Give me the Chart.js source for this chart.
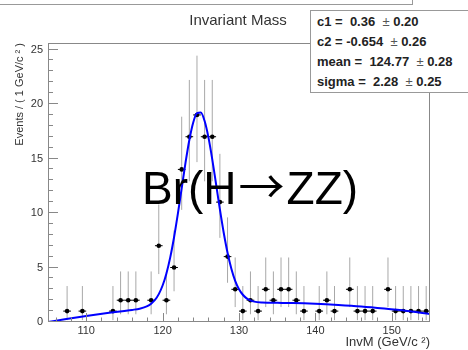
<!DOCTYPE html>
<html>
<head>
<meta charset="utf-8">
<script src="https://cdn.jsdelivr.net/npm/chart.js@4"></script>
<style>
  body { margin: 0; background: #fff; overflow: hidden; }
  #wrap { position: relative; width: 468px; height: 350px; overflow: hidden; font-family: "Liberation Sans", Arial, sans-serif; }
  #chart { position: absolute; left: 0; top: 0; }
  #topBox { position: absolute; left: -1px; top: -20px; width: 414px; height: 25px; box-sizing: border-box; border: 1px solid #999; }
  #title { position: absolute; left: 138px; top: 11px; width: 200px; text-align: center; font-size: 15px; line-height: 18px; color: #333; }
  #stats { position: absolute; left: 310px; top: 10px; width: 170px; height: 83px; box-sizing: border-box; border: 1px solid #999; background: #fff;
           padding: 1px 0 0 6px; font-size: 13px; font-weight: bold; line-height: 20px; color: #222; white-space: pre; }
  #stats span { font-weight: normal; color: #555; }
  #overlay { position: absolute; left: 142px; top: 161px; font-size: 46px; line-height: 46px; color: #000; white-space: nowrap; }
  #overlay .arrow { font-family: "Noto Sans CJK SC", sans-serif; margin: 0 2px 0 2px; position: relative; top: -1px; }
</style>
</head>
<body>
<div id="wrap">
  <canvas id="chart" width="468" height="350"></canvas>
  <div id="topBox"></div>
  <div id="title">Invariant Mass</div>
  <div id="stats">c1 =  0.36  <span>±</span> 0.20
c2 = -0.654  <span>±</span> 0.26
mean =  124.77  <span>±</span> 0.28
sigma =  2.28  <span>±</span> 0.25</div>
  <div id="overlay">Br(H<span class="arrow">→</span>ZZ)</div>
</div>
<script>
// binned data (only non-empty bins are drawn)
const binCenters = [107.5, 109.5, 113.5, 114.5, 115.5, 116.5, 118.5, 119.5, 120.5, 121.5,
                    122.5, 123.5, 124.5, 125.5, 126.5, 127.5, 128.5, 129.5, 130.5, 131.5,
                    132.5, 133.5, 134.5, 135.5, 136.5, 137.5, 138.5, 140.5, 141.5, 142.5,
                    144.5, 145.5, 146.5, 147.5, 149.5, 150.5, 151.5, 152.5, 153.5, 154.5];
const counts = [1, 1, 1, 2, 2, 2, 2, 7, 2, 5,
                14, 17, 19, 17, 17, 11, 6, 3, 1, 2,
                1, 3, 2, 3, 3, 2, 1, 1, 2, 1,
                3, 1, 1, 1, 3, 1, 1, 1, 1, 1];
const errLow = [0.17, 0.17, 0.17, 0.71, 0.71, 0.71, 0.71, 4.40, 0.71, 2.82,
                10.29, 12.91, 14.67, 12.91, 12.91, 7.72, 3.60, 1.37, 0.17, 0.71,
                0.17, 1.37, 0.71, 1.37, 1.37, 0.71, 0.17, 0.17, 0.71, 0.17,
                1.37, 0.17, 0.17, 0.17, 1.37, 0.17, 0.17, 0.17, 0.17, 0.17];
const errHigh = [3.30, 3.30, 3.30, 4.64, 4.64, 4.64, 4.64, 10.78, 4.64, 8.40,
                 18.84, 22.21, 24.44, 22.21, 22.21, 15.43, 9.60, 5.92, 3.30, 4.64,
                 3.30, 5.92, 4.64, 5.92, 5.92, 4.64, 3.30, 3.30, 4.64, 3.30,
                 5.92, 3.30, 3.30, 3.30, 5.92, 3.30, 3.30, 3.30, 3.30, 3.30];
const binHalf = 0.5;

// fitted curve
const fitX = [105, 107, 110, 113, 115, 116, 117, 118, 118.5, 119, 119.5, 120, 120.5, 121, 121.5,
              122, 122.5, 123, 123.5, 124, 124.5, 125, 125.5, 126, 126.5, 127, 127.5, 128, 128.5,
              129, 129.5, 130, 130.5, 131, 131.5, 132, 133, 134, 135, 137, 140, 143, 146, 149, 152, 155];
const fitY = [0, 0.23, 0.56, 0.85, 1.02, 1.11, 1.22, 1.45, 1.68, 2.02, 2.56, 3.35, 4.46, 5.93, 7.78,
              9.94, 12.28, 14.62, 16.70, 18.29, 19.17, 19.22, 18.44, 16.94, 14.93, 12.64, 10.33, 8.19, 6.35,
              4.89, 3.78, 3.01, 2.50, 2.17, 1.98, 1.87, 1.79, 1.77, 1.76, 1.74, 1.67, 1.56, 1.42, 1.23, 1.01, 0.74];

const xTicks = [110, 120, 130, 140, 150];
const yTicks = [0, 5, 10, 15, 20, 25];
const xMin = 105, xMax = 155;
const yMin = 0, yMax = 25.6;

Chart.defaults.font.family = '"Liberation Sans", Arial, sans-serif';

// ROOT-like frame, inward ticks and error bars
const rootFrame = {
  id: 'rootFrame',
  beforeDatasetsDraw(chart) {
    const { ctx, chartArea: a, scales: { x, y } } = chart;
    ctx.save();
    ctx.beginPath();
    ctx.rect(a.left, a.top, a.width, a.height);
    ctx.clip();
    ctx.lineWidth = 1;
    ctx.strokeStyle = '#a8a8a8';
    binCenters.forEach((c, i) => {
      const px = x.getPixelForValue(c);
      ctx.beginPath();
      ctx.moveTo(px, y.getPixelForValue(errLow[i]));
      ctx.lineTo(px, y.getPixelForValue(errHigh[i]));
      ctx.stroke();
    });
    ctx.strokeStyle = '#000';
    binCenters.forEach((c, i) => {
      const py = y.getPixelForValue(counts[i]);
      ctx.beginPath();
      ctx.moveTo(x.getPixelForValue(c - binHalf), py);
      ctx.lineTo(x.getPixelForValue(c + binHalf), py);
      ctx.stroke();
    });
    ctx.restore();
  },
  afterDatasetsDraw(chart) {
    const { ctx, chartArea: a, scales: { x, y } } = chart;
    ctx.save();
    ctx.lineWidth = 1;
    ctx.strokeStyle = '#888';
    ctx.strokeRect(a.left + 0.5, a.top + 0.5, a.width - 1, a.height - 1);
    ctx.beginPath();
    for (let v = 0; v <= 25; v++) {
      const py = Math.round(y.getPixelForValue(v)) - 0.5;
      const len = v % 5 === 0 ? 10 : 5;
      ctx.moveTo(a.left, py);
      ctx.lineTo(a.left + len, py);
    }
    for (let v = 106; v <= 154; v += 2) {
      const px = Math.round(x.getPixelForValue(v)) + 0.5;
      const len = v % 10 === 0 ? 9 : 4.5;
      ctx.moveTo(px, a.bottom);
      ctx.lineTo(px, a.bottom - len);
    }
    ctx.stroke();
    ctx.restore();
  }
};

new Chart(document.getElementById('chart'), {
  type: 'scatter',
  data: {
    datasets: [
      {
        data: fitX.map((v, i) => ({ x: v, y: fitY[i] })),
        showLine: true,
        borderColor: '#0000ff',
        borderWidth: 2,
        pointRadius: 0,
        cubicInterpolationMode: 'monotone',
        fill: false,
        order: 0
      },
      {
        data: binCenters.map((v, i) => ({ x: v, y: counts[i] })),
        pointRadius: 2.3,
        pointBackgroundColor: '#000',
        pointBorderWidth: 0,
        order: 1
      }
    ]
  },
  options: {
    responsive: false,
    animation: false,
    layout: { padding: { top: 43, right: 38, bottom: 0, left: 0 } },
    plugins: { legend: { display: false }, tooltip: { enabled: false } },
    scales: {
      x: {
        type: 'linear', min: xMin, max: xMax,
        afterBuildTicks: s => { s.ticks = xTicks.map(v => ({ value: v })); },
        afterFit: s => { s.height = 28; },
        grid: { display: false, drawTicks: false },
        border: { display: false },
        ticks: { padding: 2, color: '#333', font: { size: 11 }, maxRotation: 0, autoSkip: false },
        title: { display: true, text: 'InvM (GeV/c ²)', align: 'end', color: '#333', font: { size: 13 }, padding: { top: 0, bottom: 0 } }
      },
      y: {
        min: yMin, max: yMax,
        afterBuildTicks: s => { s.ticks = yTicks.map(v => ({ value: v })); },
        afterFit: s => { s.width = 48; },
        grid: { display: false, drawTicks: false },
        border: { display: false },
        ticks: { padding: 5, color: '#333', font: { size: 11 } },
        title: { display: true, text: 'Events / ( 1 GeV/c ² )', align: 'end', color: '#333', font: { size: 11 }, padding: { top: 13, bottom: 0 } }
      }
    }
  },
  plugins: [rootFrame]
});
</script>
</body>
</html>
